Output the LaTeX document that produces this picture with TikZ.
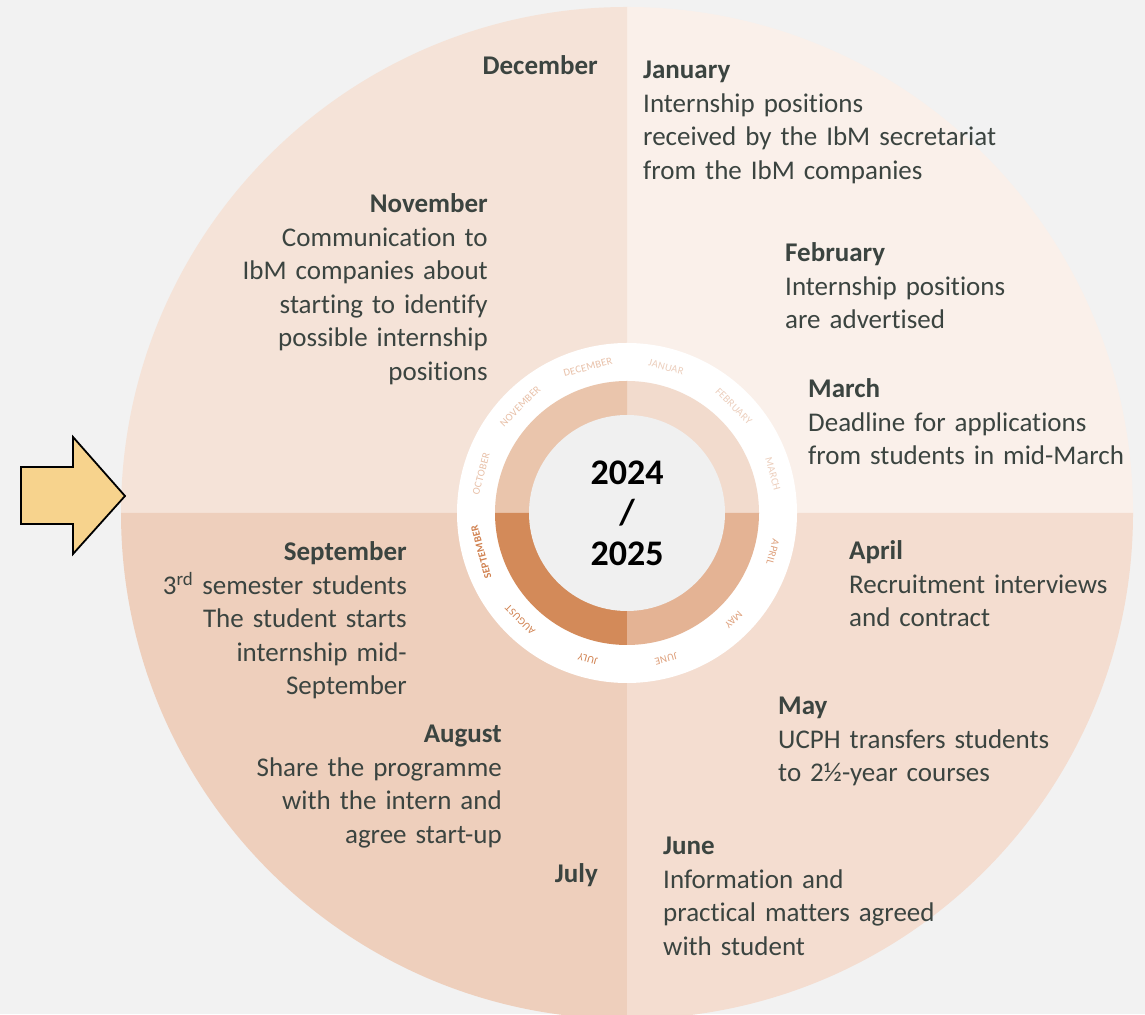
\documentclass[tikz,border=0pt]{standalone}
\usepackage{fontspec}
\setmainfont{Carlito}[Ligatures=NoCommon]
\newfontfamily\ringfont{Carlito}[LetterSpace=3]
\usetikzlibrary{positioning}
\definecolor{pagegray}{RGB}{242,242,242}
\definecolor{qjan}{RGB}{250,240,234}
\definecolor{qoct}{RGB}{245,227,216}
\definecolor{qapr}{RGB}{244,221,208}
\definecolor{qjul}{RGB}{238,207,188}
\definecolor{rjan}{RGB}{242,219,205}
\definecolor{roct}{RGB}{234,197,172}
\definecolor{rapr}{RGB}{228,179,148}
\definecolor{rjul}{RGB}{211,138,89}
\definecolor{ljan}{RGB}{236,206,188}
\definecolor{loct}{RGB}{232,192,168}
\definecolor{lapr}{RGB}{222,160,124}
\definecolor{ljul}{RGB}{208,128,78}
\definecolor{hubgray}{RGB}{240,240,240}
\definecolor{inktext}{RGB}{59,68,64}
\definecolor{arrowyellow}{RGB}{247,211,141}

\begin{document}
\begin{tikzpicture}[x=1pt, y=1pt, font=\fontsize{27}{33.5}\selectfont,
  lefttxt/.style={text=inktext, inner sep=0pt, text width=430pt, align=left, anchor=base west},
  righttxt/.style={text=inktext, inner sep=0pt, text width=430pt, align=right, anchor=base east},
  ringlbl/.style={inner sep=0pt, font=\ringfont\fontsize{10.5}{11}\selectfont}]
  \useasboundingbox (0,0) rectangle (1145,1014);
  \fill[pagegray] (0,0) rectangle (1145,1014);
  \coordinate (hub) at (627,501);
  % big wheel, one colour per quarter
  \begin{scope}
    \clip (0,0) rectangle (1145,1014);
    \foreach \a/\qc in {0/qjan, 90/qoct, 180/qjul, 270/qapr}
      \fill[\qc] (hub) -- ++(\a:506) arc[start angle=\a, delta angle=90, radius=506] -- cycle;
  \end{scope}
  % inner ring
  \fill[white] (hub) circle[radius=170];
  \foreach \a/\rc in {0/rjan, 90/roct, 180/rjul, 270/rapr}
    \fill[\rc] (hub) -- ++(\a:132) arc[start angle=\a, delta angle=90, radius=132] -- cycle;
  \fill[hubgray] (hub) circle[radius=98];
  \node[font=\fontsize{36}{40.5}\selectfont\bfseries, align=center, inner sep=0pt] (year) at (hub) {2024\\/\\2025};
  % month names round the ring
  \foreach \m/\c [count=\i from 0] in {JANUAR/ljan, FEBRUARY/ljan, MARCH/ljan,
      APRIL/lapr, MAY/lapr, JUNE/lapr, JULY/ljul, AUGUST/ljul, \textbf{SEPTEMBER}/ljul,
      OCTOBER/loct, NOVEMBER/loct, DECEMBER/loct} {
    \pgfmathsetmacro{\ang}{75-30*\i}
    \node[ringlbl, text=\c, rotate=\ang-90] (lbl\i) at ([shift={(\ang:151)}]hub) {\m};
  }
  % Labels
  \node[righttxt] (dec) at (598,939) {\textbf{December}};
  \node[lefttxt] (jan) at (643,935) {\textbf{January}\\Internship positions\\received by the IbM secretariat\\from the IbM companies};
  \node[righttxt] (nov) at (488,801) {\textbf{November}\\Communication to\\IbM companies about\\starting to identify\\possible internship\\positions};
  \node[lefttxt] (feb) at (785,752) {\textbf{February}\\Internship positions\\are advertised};
  \node[lefttxt] (mar) at (808,616) {\textbf{March}\\Deadline for applications\\from students in mid-March};
  \node[lefttxt] (apr) at (849,454) {\textbf{April}\\Recruitment interviews\\and contract};
  \node[lefttxt] (may) at (778,299) {\textbf{May}\\UCPH transfers students\\to 2½-year courses};
  \node[lefttxt] (jun) at (663,159) {\textbf{June}\\Information and\\practical matters agreed\\with student};
  \node[righttxt] (jul) at (598,131) {\textbf{July}};
  \node[righttxt] (aug) at (502,271) {\textbf{August}\\Share the programme\\with the intern and\\agree start-up};
  \node[righttxt] (sep) at (407,453) {\textbf{September}\\3\textsuperscript{rd} semester students\\The student starts\\internship mid-\\September};
  % start arrow
  \filldraw[fill=arrowyellow, draw=black, line width=1.8pt, line join=miter]
    (21,547) -- (73,547) -- (73,577) -- (125,518) -- (73,460) -- (73,490) -- (21,490) -- cycle;
\end{tikzpicture}
\end{document}
